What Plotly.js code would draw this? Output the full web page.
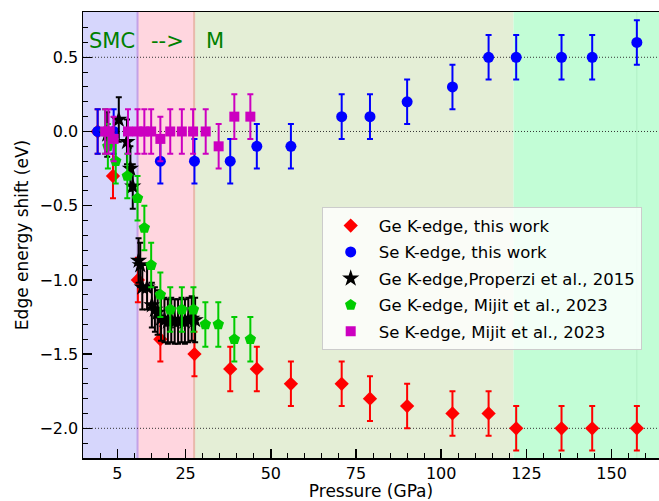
<!DOCTYPE html>
<html>
<head>
<meta charset="utf-8">
<script src="https://cdn.plot.ly/plotly-3.0.1.min.js"></script>
<style>html,body{margin:0;padding:0;background:#fff;}#chart{width:659px;height:501px;}</style>
</head>
<body>
<div id="chart"></div>
<script>
// ---- data (pressure in GPa, edge energy shift in eV) ----
var geThisP   = [-0.8, 3.7, 11.0, 17.6, 27.6, 38.1, 45.9, 55.9, 70.8, 79.1, 90.0, 103.3, 113.9, 122.0, 135.3, 144.3, 157.4];
var geThisE   = [0.0, -0.3, -1.0, -1.4, -1.5, -1.6, -1.6, -1.7, -1.7, -1.8, -1.85, -1.9, -1.9, -2.0, -2.0, -2.0, -2.0];
var seThisP   = [-0.8, 3.9, 17.6, 27.6, 38.1, 45.9, 55.9, 70.8, 79.1, 90.0, 103.3, 113.9, 122.0, 135.3, 144.3, 157.4];
var seThisE   = [0.0, 0.0, -0.2, -0.2, -0.2, -0.1, -0.1, 0.1, 0.1, 0.2, 0.3, 0.5, 0.5, 0.5, 0.5, 0.6];
var gePropP   = [2.0, 5.4, 7.8, 8.8, 9.5, 11.2, 11.7, 12.3, 13.7, 15.1, 16.0, 16.8, 17.8, 18.8, 19.8, 20.8, 21.8, 22.8, 23.8, 24.8, 25.8, 26.8, 27.8];
var gePropE   = [-0.02, 0.08, -0.07, -0.25, -0.37, -0.87, -0.9, -1.05, -1.05, -1.17, -1.2, -1.22, -1.26, -1.27, -1.28, -1.27, -1.28, -1.28, -1.27, -1.28, -1.27, -1.26, -1.27];
var geMijitP  = [1.4, 2.2, 4.5, 7.9, 10.9, 12.9, 14.9, 17.6, 20.5, 23.9, 27.3, 30.8, 34.6, 39.3, 44.0];
var geMijitE  = [0.0, -0.1, -0.2, -0.3, -0.45, -0.65, -0.9, -1.1, -1.2, -1.2, -1.2, -1.3, -1.3, -1.4, -1.4];
var seMijitP  = [1.4, 2.4, 3.9, 8.1, 10.9, 12.9, 14.9, 17.6, 20.5, 23.9, 27.2, 30.9, 34.7, 39.3, 44.0];
var seMijitE  = [0.0, 0.0, -0.05, 0.0, 0.0, 0.0, 0.0, -0.05, 0.0, 0.0, 0.0, 0.0, -0.1, 0.1, 0.1];
var errAll    = 0.15;
var xTickVals = [5, 25, 50, 75, 100, 125, 150];
var regionEdges = [-5.1, 10.9, 27.5, 121.2, 163.9];
var hLines    = [0.5, 0.0, -2.0];

function series(name, xs, ys, color, symbol, size) {
  return {
    type: 'scatter', mode: 'markers', name: name, x: xs, y: ys,
    legendgroup: name,
    marker: {color: color, symbol: symbol, size: size, line: {width: 0}},
    error_y: {type: 'constant', value: errAll, color: color, thickness: 2, width: 3},
    cliponaxis: false
  };
}

var traces = [
  series('Ge K-edge, this work', geThisP, geThisE, '#ff0000', 'diamond', 11),
  series('Se K-edge, this work', seThisP, seThisE, '#0000ff', 'circle', 11),
  series('Ge K-edge,Properzi et al., 2015', gePropP, gePropE, '#000000', 'star', 13),
  series('Ge K-edge, Mijit et al., 2023', geMijitP, geMijitE, '#00cc00', 'pentagon', 12),
  series('Se K-edge, Mijit et al., 2023', seMijitP, seMijitE, '#cc00c0', 'square', 10)
];

var regionColors = ['#d6d6fc', '#ffd6df', '#e4eed6', '#c2fdd6'];
var shapes = [];
for (var i = 0; i < regionColors.length; i++) {
  shapes.push({type: 'rect', layer: 'below', xref: 'x', yref: 'paper',
    x0: regionEdges[i], x1: regionEdges[i + 1], y0: 0, y1: 1,
    fillcolor: regionColors[i], line: {width: 0}});
}
shapes.push({type: 'line', layer: 'below', xref: 'x', yref: 'paper', x0: regionEdges[1], x1: regionEdges[1], y0: 0, y1: 1, line: {color: '#c4a2e6', width: 2}});
shapes.push({type: 'line', layer: 'below', xref: 'x', yref: 'paper', x0: regionEdges[2], x1: regionEdges[2], y0: 0, y1: 1, line: {color: '#e9b9ab', width: 2}});
shapes.push({type: 'line', layer: 'below', xref: 'x', yref: 'paper', x0: 157.4, x1: 157.4, y0: 0, y1: 1, line: {color: '#b0f0c6', width: 1}});
hLines.forEach(function (v) {
  shapes.push({type: 'line', layer: 'below', xref: 'paper', yref: 'y', x0: 0, x1: 1, y0: v, y1: v,
    line: {color: '#333333', width: 1, dash: '1px,2px'}});
});

var annFont = {family: 'DejaVu Sans', size: 21, color: '#008000'};
var annotations = [
  {text: 'SMC', xref: 'paper', yref: 'paper', x: 4 / 576, y: (458 - 41) / 446, xanchor: 'left', yanchor: 'middle', showarrow: false, font: annFont},
  {text: '--&gt;', xref: 'paper', yref: 'paper', x: (149 - 83) / 576, y: (458 - 41) / 446, xanchor: 'left', yanchor: 'middle', showarrow: false, font: annFont},
  {text: 'M', xref: 'paper', yref: 'paper', x: (204 - 83) / 576, y: (458 - 41) / 446, xanchor: 'left', yanchor: 'middle', showarrow: false, font: annFont}
];

var layout = {
  width: 659, height: 501,
  margin: {l: 83, r: 0, t: 12, b: 43},
  paper_bgcolor: '#ffffff', plot_bgcolor: '#ffffff',
  font: {family: 'DejaVu Sans', size: 16, color: '#000'},
  showlegend: true,
  legend: {x: (321.7 - 83) / 576, y: (458 - 207.3) / 446, xanchor: 'left', yanchor: 'top',
    bgcolor: 'rgba(255,255,255,0.8)', bordercolor: '#cccccc', borderwidth: 1,
    font: {family: 'DejaVu Sans', size: 16.5}, tracegroupgap: 2, itemwidth: 46},
  xaxis: {range: [regionEdges[0], regionEdges[4]], tickvals: xTickVals, ticktext: xTickVals.map(String),
    ticks: 'inside', ticklen: 9, tickwidth: 1.5, tickcolor: '#000',
    showline: true, linewidth: 1.5, linecolor: '#000', mirror: true, showgrid: false, zeroline: false,
    minor: {dtick: 5, tick0: 0, ticks: 'inside', ticklen: 5, tickwidth: 1, tickcolor: '#000', showgrid: false},
    title: {text: 'Pressure (GPa)', font: {size: 17}, standoff: 3}},
  yaxis: {range: [-2.2, 0.805], dtick: 0.5, tick0: 0, tickformat: '.1f',
    ticks: 'inside', ticklen: 9, tickwidth: 1.5, tickcolor: '#000',
    showline: true, linewidth: 1.5, linecolor: '#000', mirror: false, showgrid: false, zeroline: false,
    minor: {dtick: 0.1, tick0: 0, ticks: 'inside', ticklen: 5, tickwidth: 1, tickcolor: '#000', showgrid: false},
    title: {text: 'Edge energy shift (eV)', font: {size: 17}, standoff: 6}},
  shapes: shapes,
  annotations: annotations
};

Plotly.newPlot('chart', traces, layout, {displayModeBar: false, staticPlot: true});
</script>
</body>
</html>
